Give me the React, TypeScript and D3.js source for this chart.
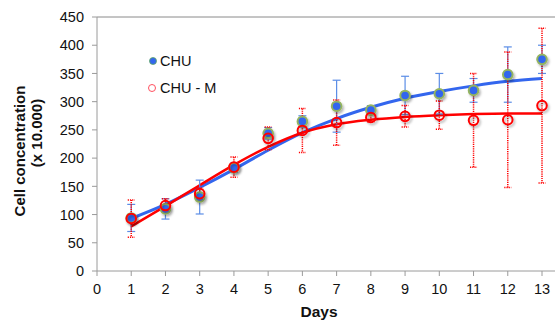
import React from 'react';
import * as d3 from 'd3';

// ─── Data ──────────────────────────────────────────────────

const days = [1, 2, 3, 4, 5, 6, 7, 8, 9, 10, 11, 12, 13];

const chuMean = [94, 110, 131, 183, 244, 265, 292, 285, 311, 314, 320, 348, 375];
const chuErr = [24, 18, 30, 8, 10, 10, 46, 8, 34, 36, 21, 49, 25];
const chuFit = [93, 118, 148, 180, 214, 245, 270, 290, 306, 318, 328, 336, 341];

const chuMMean = [93, 116, 137, 184, 235, 249, 263, 272, 274, 276, 267, 268, 293];
const chuMErr = [33, 12, 10, 18, 20, 39, 40, 8, 19, 25, 83, 120, 137];
const chuMFit = [79, 115, 152, 188, 220, 245, 260, 268, 273, 276, 278, 279, 279];

const xTicks = [0, 1, 2, 3, 4, 5, 6, 7, 8, 9, 10, 11, 12, 13];
const yTicks = [0, 50, 100, 150, 200, 250, 300, 350, 400, 450];

// ─── Constants ─────────────────────────────────────────────

const W = 555;
const H = 320;
const BLUE = '#3366ee';
const RED = '#ff0000';
const AXIS = '#9a9a9a';
const FONT = 'Liberation Sans, Arial, sans-serif';

const x = d3.scaleLinear().domain([0, 13]).range([97, 542]);
const y = d3.scaleLinear().domain([0, 450]).range([271, 17]);

const line = d3.line<[number, number]>()
  .x((d) => x(d[0]))
  .y((d) => y(d[1]))
  .curve(d3.curveMonotoneX);

export default function App() {
  const blueFit = line(days.map((d, i) => [d, chuFit[i]] as [number, number])) || '';
  const redFit = line(days.map((d, i) => [d, chuMFit[i]] as [number, number])) || '';

  return (
    <div style={{ position: 'absolute', left: 0, top: 0 }}>
      <svg width={W} height={H} style={{ display: 'block', background: '#fff' }} fontFamily={FONT}>
        <defs>
          <filter id="shadow" x="-50%" y="-50%" width="200%" height="200%">
            <feDropShadow dx="1.5" dy="2" stdDeviation="1.2" floodColor="#000" floodOpacity="0.3" />
          </filter>
        </defs>

        {/* frame lines */}
        <line x1={97} x2={W} y1={y(450)} y2={y(450)} stroke="#8a8a8a" strokeWidth={1} />
        <line x1={97} x2={W} y1={y(0)} y2={y(0)} stroke={AXIS} strokeWidth={1} />
        <line x1={97} x2={97} y1={y(0)} y2={y(450)} stroke={AXIS} strokeWidth={1} />

        {/* y ticks */}
        {yTicks.map((t) => (
          <g key={'y' + t}>
            <line x1={92} x2={97} y1={y(t)} y2={y(t)} stroke={AXIS} />
            <text x={84} y={y(t)} dy="0.36em" textAnchor="end" fontSize={14.5} fill="#111">{t}</text>
          </g>
        ))}

        {/* x ticks */}
        {xTicks.map((t) => (
          <g key={'x' + t}>
            <line x1={x(t)} x2={x(t)} y1={y(0)} y2={y(0) + 5} stroke={AXIS} />
            <text x={x(t)} y={294} textAnchor="middle" fontSize={14.5} fill="#111">{t}</text>
          </g>
        ))}

        {/* axis titles */}
        <text x={319} y={317} textAnchor="middle" fontSize={15.5} fontWeight="bold" fill="#111">Days</text>
        <text transform="translate(25,151) rotate(-90)" textAnchor="middle" fontSize={15} fontWeight="bold" fill="#111">
          Cell concentration
        </text>
        <text transform="translate(42,133) rotate(-90)" textAnchor="middle" fontSize={15} fontWeight="bold" fill="#111">
          (x 10.000)
        </text>

        {/* fit curves */}
        <path d={blueFit} fill="none" stroke={BLUE} strokeWidth={3} />
        <path d={redFit} fill="none" stroke={RED} strokeWidth={2.5} />

        {/* CHU error bars */}
        {days.map((d, i) => {
          const cx = x(d);
          const t = y(chuMean[i] + chuErr[i]);
          const b = y(chuMean[i] - chuErr[i]);
          return (
            <g key={'be' + d} stroke="#5b8de6" strokeWidth={1.2}>
              <line x1={cx} x2={cx} y1={t} y2={b} />
              <line x1={cx - 4} x2={cx + 4} y1={t} y2={t} />
              <line x1={cx - 4} x2={cx + 4} y1={b} y2={b} />
            </g>
          );
        })}

        {/* CHU-M error bars */}
        {days.map((d, i) => {
          const cx = x(d);
          const t = y(chuMMean[i] + chuMErr[i]);
          const b = y(chuMMean[i] - chuMErr[i]);
          return (
            <g key={'re' + d} stroke={RED} strokeWidth={1.5} strokeDasharray="1.2 1">
              <line x1={cx} x2={cx} y1={t} y2={b} />
              <line x1={cx - 3.5} x2={cx + 3.5} y1={t} y2={t} />
              <line x1={cx - 3.5} x2={cx + 3.5} y1={b} y2={b} />
            </g>
          );
        })}

        {/* CHU markers */}
        {days.map((d, i) => (
          <circle key={'bm' + d} cx={x(d)} cy={y(chuMean[i])} r={4.8}
            fill={BLUE} stroke="#94b460" strokeWidth={2} filter="url(#shadow)" />
        ))}

        {/* CHU-M markers */}
        {days.map((d, i) => (
          <circle key={'rm' + d} cx={x(d)} cy={y(chuMMean[i])} r={4.8}
            fill="none" stroke={RED} strokeWidth={2} filter="url(#shadow)" />
        ))}

        {/* legend */}
        <circle cx={153} cy={61} r={3.5} fill={BLUE} stroke="#5fa860" strokeWidth={0.8} />
        <text x={160} y={66} fontSize={14.5} fill="#111">CHU</text>
        <circle cx={152} cy={88} r={3.5} fill="#fff" stroke="#ff5060" strokeWidth={1} />
        <text x={160} y={93} fontSize={14.5} fill="#111">CHU - M</text>
      </svg>
    </div>
  );
}
